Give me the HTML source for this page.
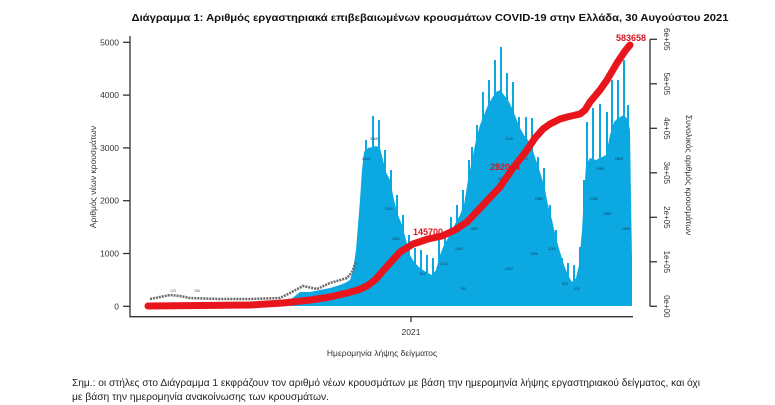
<!DOCTYPE html>
<html><head><meta charset="utf-8"><style>
html,body{margin:0;padding:0;background:#fff;}
svg{display:block;}
text{font-family:"Liberation Sans","DejaVu Sans",sans-serif;}
</style></head><body>
<svg width="775" height="405" viewBox="0 0 775 405" xmlns="http://www.w3.org/2000/svg">
<rect width="775" height="405" fill="#fff"/>
<!-- title -->
<text x="430" y="21" font-size="10" font-weight="bold" fill="#111" text-anchor="middle" textLength="597" lengthAdjust="spacingAndGlyphs">Διάγραμμα 1: Αριθμός εργαστηριακά επιβεβαιωμένων κρουσμάτων COVID-19 στην Ελλάδα, 30 Αυγούστου 2021</text>

<!-- bars: solid body -->
<polygon fill="#0BA8E2" points="148,306 148,305 280,305 285,303 290,300 300,292 310,292 320,290 330,288 340,285 345,283 350,280 353,270 356,250 358,225 360,200 362,170 364,152 368,148 372,147 376,146 380,148 383,160 386,172 390,180 394,200 398,215 402,225 406,240 410,255 414,262 420,268 426,272 432,275 436,270 440,255 444,245 448,238 452,230 456,222 460,215 464,205 468,180 472,160 476,140 480,125 484,115 488,105 492,98 496,92 500,90 504,95 508,100 512,108 516,118 520,128 524,135 528,140 532,148 536,160 540,172 544,185 548,205 552,220 556,238 560,252 564,265 568,275 572,282 576,278 579,265 582,230 584,195 586,165 590,158 596,160 600,158 606,155 610,135 614,122 618,118 624,115 628,120 630,130 631,200 632,258 632,306"/>
<!-- spikes -->
<g fill="#0BA8E2">
<rect x="365" y="140" width="2" height="166"/>
<rect x="372" y="116" width="2" height="190"/>
<rect x="378" y="120" width="2" height="186"/>
<rect x="384" y="150" width="2" height="156"/>
<rect x="390" y="170" width="2" height="136"/>
<rect x="396" y="195" width="2" height="111"/>
<rect x="402" y="215" width="2" height="91"/>
<rect x="408" y="235" width="2" height="71"/>
<rect x="414" y="248" width="2" height="58"/>
<rect x="420" y="250" width="2" height="56"/>
<rect x="426" y="255" width="2" height="51"/>
<rect x="432" y="258" width="2" height="48"/>
<rect x="438" y="240" width="2" height="66"/>
<rect x="444" y="233" width="2" height="73"/>
<rect x="450" y="217" width="2" height="89"/>
<rect x="456" y="205" width="2" height="101"/>
<rect x="462" y="190" width="2" height="116"/>
<rect x="468" y="160" width="2" height="146"/>
<rect x="471" y="147" width="2" height="159"/>
<rect x="476" y="125" width="2" height="181"/>
<rect x="482" y="92" width="2" height="214"/>
<rect x="488" y="80" width="2" height="226"/>
<rect x="494" y="60" width="2" height="246"/>
<rect x="500" y="47" width="2" height="259"/>
<rect x="506" y="73" width="2" height="233"/>
<rect x="512" y="82" width="2" height="224"/>
<rect x="518" y="117" width="2" height="189"/>
<rect x="525" y="117" width="2" height="189"/>
<rect x="531" y="118" width="2" height="188"/>
<rect x="537" y="157" width="2" height="149"/>
<rect x="543" y="168" width="2" height="138"/>
<rect x="549" y="205" width="2" height="101"/>
<rect x="555" y="230" width="2" height="76"/>
<rect x="561" y="258" width="2" height="48"/>
<rect x="567" y="263" width="2" height="43"/>
<rect x="573" y="265" width="2" height="41"/>
<rect x="579" y="247" width="2" height="59"/>
<rect x="583" y="180" width="2" height="126"/>
<rect x="586" y="122" width="2" height="184"/>
<rect x="592" y="108" width="2" height="198"/>
<rect x="599" y="104" width="2" height="202"/>
<rect x="606" y="112" width="2" height="194"/>
<rect x="611" y="80" width="2" height="226"/>
<rect x="617" y="80" width="2" height="226"/>
<rect x="623" y="60" width="2" height="246"/>
<rect x="627" y="105" width="2" height="201"/>
</g>

<!-- grey value labels band (early period) -->
<polyline fill="none" stroke="#6a6a6a" stroke-width="2.5" stroke-dasharray="2 1" points="150,299 160,297 170,295 180,296 190,298 220,299 250,299 280,298 290,293 303,286 317,289 330,283 347,278 352,272 356,262"/>
<g font-size="3.5" fill="#555">
<text x="170" y="292">123</text><text x="194" y="292">156</text>
</g>
<!-- dark labels scattered in bars -->
<g font-size="3.5" fill="#1a3a55">
<text x="362" y="160">2543</text><text x="370" y="140">3165</text><text x="385" y="210">2316</text><text x="392" y="240">1532</text>
<text x="420" y="275">812</text><text x="440" y="265">1123</text><text x="455" y="250">1340</text><text x="470" y="230">1852</text>
<text x="485" y="200">2315</text><text x="498" y="180">2760</text><text x="505" y="140">3120</text><text x="520" y="160">2671</text>
<text x="535" y="200">2080</text><text x="548" y="250">1180</text><text x="562" y="285">520</text><text x="574" y="290">410</text>
<text x="590" y="200">2260</text><text x="603" y="215">1955</text><text x="615" y="160">2890</text><text x="622" y="230">1655</text>
<text x="596" y="170">2480</text><text x="460" y="290">760</text><text x="505" y="270">1010</text><text x="530" y="255">1250</text>
</g>

<!-- red cumulative line -->
<polyline fill="none" stroke="#E8151C" stroke-width="7" stroke-linecap="round" stroke-linejoin="round" points="148,306 200,305.5 250,305 283,303 310,300 330,297 347,293 358,290 367,286 375,280 382,272 390,263 400,252 413,244 428,239 442,236 455,230 467,222 483,205 500,187 513,168 527,150 535,138 543,129 550,124 560,119 567,117 580,114 585,110 590,102 600,90 607,80 617,63 625,51 630,45"/>
<g font-size="9" font-weight="bold" fill="#D8151C">
<text x="413" y="235">145700</text>
<text x="490" y="170">292044</text>
<text x="616" y="41">583658</text>
</g>

<!-- axes -->
<g stroke="#333" stroke-width="1.3" fill="none">
<polyline points="130,36 130,316.7 633,316.7"/>
<line x1="123" y1="42.3" x2="130" y2="42.3"/>
<line x1="123" y1="95.1" x2="130" y2="95.1"/>
<line x1="123" y1="147.9" x2="130" y2="147.9"/>
<line x1="123" y1="200.7" x2="130" y2="200.7"/>
<line x1="123" y1="253.5" x2="130" y2="253.5"/>
<line x1="123" y1="306.3" x2="130" y2="306.3"/>
<line x1="411" y1="316.7" x2="411" y2="322"/>
<line x1="650" y1="39.3" x2="650" y2="306.3"/>
<line x1="650" y1="39.3" x2="657" y2="39.3"/>
<line x1="650" y1="83.8" x2="657" y2="83.8"/>
<line x1="650" y1="128.3" x2="657" y2="128.3"/>
<line x1="650" y1="172.8" x2="657" y2="172.8"/>
<line x1="650" y1="217.3" x2="657" y2="217.3"/>
<line x1="650" y1="261.8" x2="657" y2="261.8"/>
<line x1="650" y1="306.3" x2="657" y2="306.3"/>
</g>
<g font-size="8.5" fill="#333" text-anchor="end">
<text x="119" y="45.3">5000</text>
<text x="119" y="98.1">4000</text>
<text x="119" y="150.9">3000</text>
<text x="119" y="203.7">2000</text>
<text x="119" y="256.5">1000</text>
<text x="119" y="309.3">0</text>
</g>
<text x="411" y="335" font-size="8.5" fill="#333" text-anchor="middle">2021</text>
<text x="382" y="356" font-size="8.5" fill="#333" text-anchor="middle">Ημερομηνία λήψης δείγματος</text>
<text transform="translate(96,177) rotate(-90)" font-size="8.5" fill="#333" text-anchor="middle">Αριθμός νέων κρουσμάτων</text>
<g font-size="8" fill="#333" text-anchor="middle">
<text transform="translate(664,39.3) rotate(90)">6e+05</text>
<text transform="translate(664,83.8) rotate(90)">5e+05</text>
<text transform="translate(664,128.3) rotate(90)">4e+05</text>
<text transform="translate(664,172.8) rotate(90)">3e+05</text>
<text transform="translate(664,217.3) rotate(90)">2e+05</text>
<text transform="translate(664,261.8) rotate(90)">1e+05</text>
<text transform="translate(664,306.3) rotate(90)">0e+00</text>
</g>
<text transform="translate(686,175) rotate(90)" font-size="8.5" fill="#333" text-anchor="middle">Συνολικός αριθμός κρουσμάτων</text>

<!-- note -->
<text x="72" y="386" font-size="10" fill="#222" textLength="628" lengthAdjust="spacingAndGlyphs">Σημ.: οι στήλες στο Διάγραμμα 1 εκφράζουν τον αριθμό νέων κρουσμάτων με βάση την ημερομηνία λήψης εργαστηριακού δείγματος, και όχι</text>
<text x="72" y="400" font-size="10" fill="#222" textLength="257" lengthAdjust="spacingAndGlyphs">με βάση την ημερομηνία ανακοίνωσης των κρουσμάτων.</text>
</svg>
</body></html>
